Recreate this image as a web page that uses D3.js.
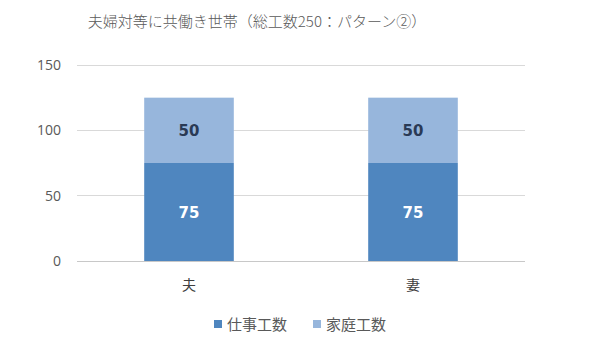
<!DOCTYPE html>
<html>
<head>
<meta charset="utf-8">
<title>夫婦対等に共働き世帯</title>
<script src="https://d3js.org/d3.v7.min.js"></script>
<style>
  body { margin: 0; background: #fff; }
  text { font-family: "Noto Sans CJK JP", "Noto Sans", sans-serif; }
</style>
</head>
<body>
<div id="chart"></div>
<script>
// data
var categories = ["夫", "妻"];
var seriesNames = ["仕事工数", "家庭工数"];
var workValues = [75, 75];
var homeValues = [50, 50];
var yTicks = [0, 50, 100, 150];

var colors = ["#4f86bf", "#97b6dc"];
var labelColors = ["#ffffff", "#2a3a55"];

var W = 590, H = 353;
var svg = d3.select("#chart").append("svg").attr("width", W).attr("height", H);

var x = d3.scaleBand().domain(categories).range([77, 525]).padding(0);
var y = d3.scaleLinear().domain([0, 150]).range([261, 65]);

// title
svg.append("text")
  .attr("x", 257).attr("y", 27)
  .attr("text-anchor", "middle")
  .attr("font-size", 15)
  .attr("font-weight", 300)
  .attr("fill", "#595959")
  .text("夫婦対等に共働き世帯（総工数250：パターン②）");

// gridlines
svg.append("g").selectAll("line").data(yTicks).join("line")
  .attr("x1", 77).attr("x2", 525)
  .attr("y1", d => y(d)).attr("y2", d => y(d))
  .attr("stroke", d => d === 0 ? "#c8c8c8" : "#d9d9d9")
  .attr("stroke-width", 1)
  .attr("shape-rendering", "crispEdges");

// y tick labels
svg.append("g").selectAll("text").data(yTicks).join("text")
  .attr("x", 61).attr("y", d => y(d) + 5)
  .attr("text-anchor", "end")
  .attr("font-size", 14)
  .attr("fill", "#595959")
  .style("font-family", "'Open Sans', 'Noto Sans', sans-serif")
  .text(d => d);

// stacked data
var rows = categories.map((c, i) => ({ cat: c, work: workValues[i], home: homeValues[i] }));
var stack = d3.stack().keys(["work", "home"])(rows);

var barW = x.bandwidth() * 0.4;
var layers = svg.append("g").selectAll("g").data(stack).join("g")
  .attr("fill", (d, i) => colors[i]);

layers.selectAll("rect").data(d => d).join("rect")
  .attr("x", d => x(d.data.cat) + (x.bandwidth() - barW) / 2)
  .attr("width", barW)
  .attr("y", d => y(d[1]))
  .attr("height", d => y(d[0]) - y(d[1]));

// value labels
stack.forEach(function (layer, i) {
  svg.append("g").selectAll("text").data(layer).join("text")
    .attr("x", d => x(d.data.cat) + x.bandwidth() / 2)
    .attr("y", d => (y(d[0]) + y(d[1])) / 2 + 6)
    .attr("text-anchor", "middle")
    .attr("font-size", 15)
    .attr("font-weight", "bold")
    .attr("fill", labelColors[i])
    .style("font-family", "'DejaVu Sans', sans-serif")
    .text(d => d[1] - d[0]);
});

// category labels
svg.append("g").selectAll("text").data(categories).join("text")
  .attr("x", d => x(d) + x.bandwidth() / 2)
  .attr("y", 290)
  .attr("text-anchor", "middle")
  .attr("font-size", 14)
  .attr("fill", "#404040")
  .text(d => d);

// legend
var legendX = [214, 313];
var lg = svg.append("g").selectAll("g").data(seriesNames).join("g")
  .attr("transform", (d, i) => "translate(" + legendX[i] + ",324)");
lg.append("rect")
  .attr("x", 0).attr("y", -4).attr("width", 8).attr("height", 8)
  .attr("fill", (d, i) => colors[i]);
lg.append("text")
  .attr("x", 13).attr("y", 5.5)
  .attr("font-size", 15)
  .attr("fill", "#595959")
  .text(d => d);
</script>
</body>
</html>
